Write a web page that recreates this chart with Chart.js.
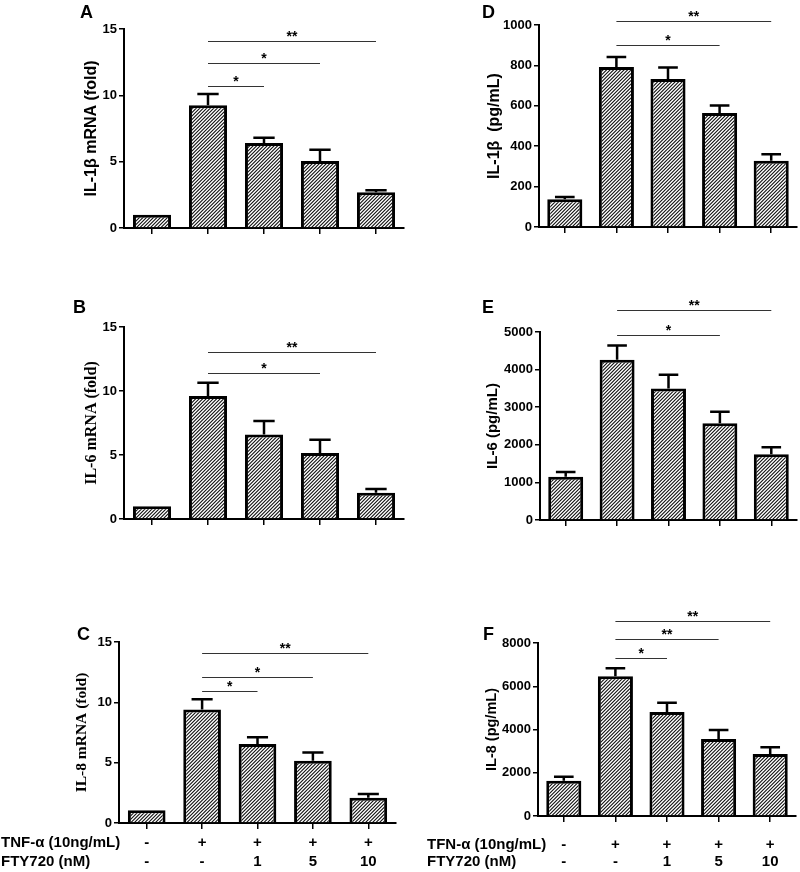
<!DOCTYPE html>
<html>
<head>
<meta charset="utf-8">
<script src="https://cdn.jsdelivr.net/npm/chart.js@4.4.1/dist/chart.umd.min.js"></script>
<style>
  html, body { margin: 0; padding: 0; background: #fff; }
  #figure { position: relative; width: 800px; height: 872px; overflow: hidden; }
  #figure canvas { position: absolute; }
  .panel-letter { position: absolute; font: bold 18px "Liberation Sans", Arial, sans-serif; line-height: 18px; color: #000; }
</style>
</head>
<body>
<div id="figure"></div>
<script>
// treatment groups and the two rows printed under the bottom panels
const groups = ['control', 'TNF', 'TNF+FTY1', 'TNF+FTY5', 'TNF+FTY10'];
const tnfRow = ['-', '+', '+', '+', '+'];
const ftyRow = ['-', '-', '1', '5', '10'];

// mRNA (fold)
const il1bMrna = [1.0, 9.25, 6.4, 5.05, 2.7];
const il1bMrnaSem = [0, 0.85, 0.4, 0.85, 0.15];
const il6Mrna = [1.0, 9.6, 6.6, 5.15, 2.05];
const il6MrnaSem = [0, 1.05, 1.05, 1.05, 0.3];
const il8Mrna = [1.05, 9.4, 6.55, 5.15, 2.1];
const il8MrnaSem = [0, 0.85, 0.55, 0.7, 0.3];

// protein (pg/mL)
const il1bProtein = [137, 792, 733, 564, 328];
const il1bProteinSem = [11, 50, 56, 38, 32];
const il6Protein = [1150, 4260, 3500, 2570, 1750];
const il6ProteinSem = [125, 380, 365, 310, 185];
const il8Protein = [1630, 6460, 4810, 3560, 2870];
const il8ProteinSem = [185, 370, 430, 415, 310];

// y ticks
const foldTicks = [0, 5, 10, 15];
const il1bTicks = [0, 200, 400, 600, 800, 1000];
const il6Ticks = [0, 1000, 2000, 3000, 4000, 5000];
const il8Ticks = [0, 2000, 4000, 6000, 8000];

// significance bars: [from group, to group, level, stars]
const sigA = [[1, 4, 14.1, '**'], [1, 3, 12.4, '*'], [1, 2, 10.7, '*']];
const sigB = [[1, 4, 13.05, '**'], [1, 3, 11.4, '*']];
const sigC = [[1, 4, 14.1, '**'], [1, 3, 12.1, '*'], [1, 2, 10.9, '*']];
const sigD = [[1, 4, 1020, '**'], [1, 3, 900, '*']];
const sigE = [[1, 4, 5585, '**'], [1, 3, 4920, '*']];
const sigF = [[1, 4, 9017, '**'], [1, 3, 8185, '**'], [1, 2, 7306, '*']];

const SANS = '"Liberation Sans", Arial, sans-serif';
const SERIF = '"Liberation Serif", "Times New Roman", serif';

function makeHatch() {
    // 7px tile with two "/" strokes -> stripes every 3.5px
    const c = document.createElement('canvas');
    c.width = 7; c.height = 7;
    const g = c.getContext('2d');
    g.fillStyle = '#fff';
    g.fillRect(0, 0, 7, 7);
    g.strokeStyle = '#111';
    g.lineWidth = 1.1;
    g.beginPath();
    [-7, -3.5, 0, 3.5, 7].forEach(o => {
        g.moveTo(o - 1, 8); g.lineTo(o + 8, -1);
    });
    g.stroke();
    return g.createPattern(c, 'repeat');
}

function extrasPlugin(p) {
    return {
        id: 'extras' + p.letter,
        afterDatasetsDraw(chart) {
            const ctx = chart.ctx;
            const xs = chart.scales.x, ys = chart.scales.y;
            const meta = chart.getDatasetMeta(0);
            ctx.save();

            // error bars (upper half only)
            ctx.strokeStyle = '#000';
            ctx.lineWidth = 2.5;
            p.sem.forEach((e, i) => {
                if (!e) return;
                const bar = meta.data[i];
                const y0 = ys.getPixelForValue(p.values[i]);
                const y1 = ys.getPixelForValue(p.values[i] + e);
                const half = bar.width * 0.28;
                ctx.beginPath();
                ctx.moveTo(bar.x, y0); ctx.lineTo(bar.x, y1);
                ctx.moveTo(bar.x - half, y1); ctx.lineTo(bar.x + half, y1);
                ctx.stroke();
            });

            // significance lines
            ctx.strokeStyle = '#333';
            ctx.lineWidth = 1.2;
            ctx.fillStyle = '#000';
            ctx.font = 'bold 14px ' + SANS;
            ctx.textAlign = 'center';
            ctx.textBaseline = 'alphabetic';
            p.sig.forEach(([a, b, level, stars]) => {
                const x1 = xs.getPixelForValue(a), x2 = xs.getPixelForValue(b);
                const y = Math.round(ys.getPixelForValue(level)) + 0.5;
                ctx.beginPath();
                ctx.moveTo(x1, y); ctx.lineTo(x2, y);
                ctx.stroke();
                ctx.fillText(stars, (x1 + x2) / 2, y - 1);
            });

            // treatment rows under the axis
            if (p.rows) {
                ctx.font = 'bold 15px ' + SANS;
                ctx.textBaseline = 'middle';
                const base = ys.getPixelForValue(0);
                p.rows.forEach((row, r) => {
                    const y = base + p.rowGap[r];
                    ctx.textAlign = 'left';
                    ctx.fillText(row.title, p.rowTitleX, y);
                    ctx.textAlign = 'center';
                    row.values.forEach((v, i) => ctx.fillText(v, xs.getPixelForValue(i), y));
                });
            }
            ctx.restore();
        }
    };
}

const hatch = makeHatch();
const figure = document.getElementById('figure');

// canvas box (x, y, w, h) and target plot area (left, top, right, bottom)
const panels = [
    { letter: 'A', values: il1bMrna, sem: il1bMrnaSem, ticks: foldTicks, sig: sigA,
      title: 'IL-1\u03b2 mRNA (fold)', titleFont: { family: SANS, size: 16, weight: 'bold' }, titleX: 92,
      box: { x: 0, y: 0, w: 410, h: 250, left: 124, top: 29, right: 404, bottom: 228 }, tag: { x: 80, y: 3 } },
    { letter: 'B', values: il6Mrna, sem: il6MrnaSem, ticks: foldTicks, sig: sigB,
      title: 'IL-6 mRNA (fold)', titleFont: { family: SERIF, size: 16, weight: 'bold' }, titleX: 92,
      box: { x: 0, y: 290, w: 410, h: 250, left: 124, top: 327, right: 404, bottom: 519 }, tag: { x: 73, y: 298 } },
    { letter: 'C', values: il8Mrna, sem: il8MrnaSem, ticks: foldTicks, sig: sigC,
      title: 'IL-8 mRNA (fold)', titleFont: { family: SERIF, size: 15.5, weight: 'bold' }, titleX: 82,
      box: { x: 0, y: 600, w: 410, h: 272, left: 119, top: 642, right: 396, bottom: 823 }, tag: { x: 77, y: 625 },
      rows: [{ title: 'TNF-\u03b1 (10ng/mL)', values: tnfRow }, { title: 'FTY720 (nM)', values: ftyRow }],
      rowGap: [20, 39], rowTitleX: 1 },
    { letter: 'D', values: il1bProtein, sem: il1bProteinSem, ticks: il1bTicks, sig: sigD,
      title: 'IL-1\u03b2  (pg/mL)', titleFont: { family: SANS, size: 16, weight: 'bold' }, titleX: 95,
      box: { x: 400, y: 0, w: 400, h: 250, left: 539, top: 25, right: 797, bottom: 227 }, tag: { x: 482, y: 3 } },
    { letter: 'E', values: il6Protein, sem: il6ProteinSem, ticks: il6Ticks, sig: sigE,
      title: 'IL-6 (pg/mL)', titleFont: { family: SANS, size: 15, weight: 'bold' }, titleX: 93,
      box: { x: 400, y: 290, w: 400, h: 250, left: 540, top: 332, right: 797, bottom: 520 }, tag: { x: 482, y: 298 } },
    { letter: 'F', values: il8Protein, sem: il8ProteinSem, ticks: il8Ticks, sig: sigF,
      title: 'IL-8 (pg/mL)', titleFont: { family: SANS, size: 14.5, weight: 'bold' }, titleX: 92,
      box: { x: 400, y: 600, w: 400, h: 272, left: 538, top: 643, right: 796, bottom: 816 }, tag: { x: 483, y: 625 },
      rows: [{ title: 'TFN-\u03b1 (10ng/mL)', values: tnfRow }, { title: 'FTY720 (nM)', values: ftyRow }],
      rowGap: [29, 46], rowTitleX: 27 }
];

function buildPanel(p) {
    const L = p.box;
    const canvas = document.createElement('canvas');
    canvas.width = L.w;
    canvas.height = L.h;
    canvas.style.left = L.x + 'px';
    canvas.style.top = L.y + 'px';
    figure.appendChild(canvas);

    const tag = document.createElement('div');
    tag.className = 'panel-letter';
    tag.textContent = p.letter;
    tag.style.left = p.tag.x + 'px';
    tag.style.top = p.tag.y + 'px';
    figure.appendChild(tag);

    const step = p.ticks[1] - p.ticks[0];
    const lineHeight = p.titleFont.size * 1.2;

    new Chart(canvas, {
        type: 'bar',
        data: {
            labels: groups,
            datasets: [{
                data: p.values,
                backgroundColor: hatch,
                borderColor: '#000',
                borderWidth: 3,
                borderSkipped: 'start',
                categoryPercentage: 1,
                barPercentage: 0.68
            }]
        },
        options: {
            responsive: false,
            animation: false,
            devicePixelRatio: 1,
            layout: { padding: { left: 0, top: L.top - L.y, right: L.x + L.w - L.right, bottom: 0 } },
            plugins: { legend: { display: false }, tooltip: { enabled: false } },
            scales: {
                x: {
                    offset: true,
                    ticks: { display: false },
                    grid: { display: true, offset: false, drawOnChartArea: false, drawTicks: true, tickLength: 6, color: '#000', lineWidth: 1.5 },
                    border: { display: true, color: '#000', width: 2 },
                    afterFit: s => { s.height = L.y + L.h - L.bottom; }
                },
                y: {
                    min: p.ticks[0],
                    max: p.ticks[p.ticks.length - 1],
                    ticks: {
                        stepSize: step,
                        color: '#000',
                        padding: 2,
                        font: { family: SANS, size: 13, weight: 'bold' },
                        callback: v => String(v)
                    },
                    grid: { display: true, drawOnChartArea: false, drawTicks: true, tickLength: 5, color: '#000', lineWidth: 1.5 },
                    border: { display: true, color: '#000', width: 2 },
                    title: {
                        display: true,
                        text: p.title,
                        color: '#000',
                        font: p.titleFont,
                        padding: { top: p.titleX - lineHeight / 2, bottom: 0 }
                    },
                    afterFit: s => { s.width = L.left - L.x; }
                }
            }
        },
        plugins: [extrasPlugin(p)]
    });
}

panels.forEach(buildPanel);
</script>
</body>
</html>
